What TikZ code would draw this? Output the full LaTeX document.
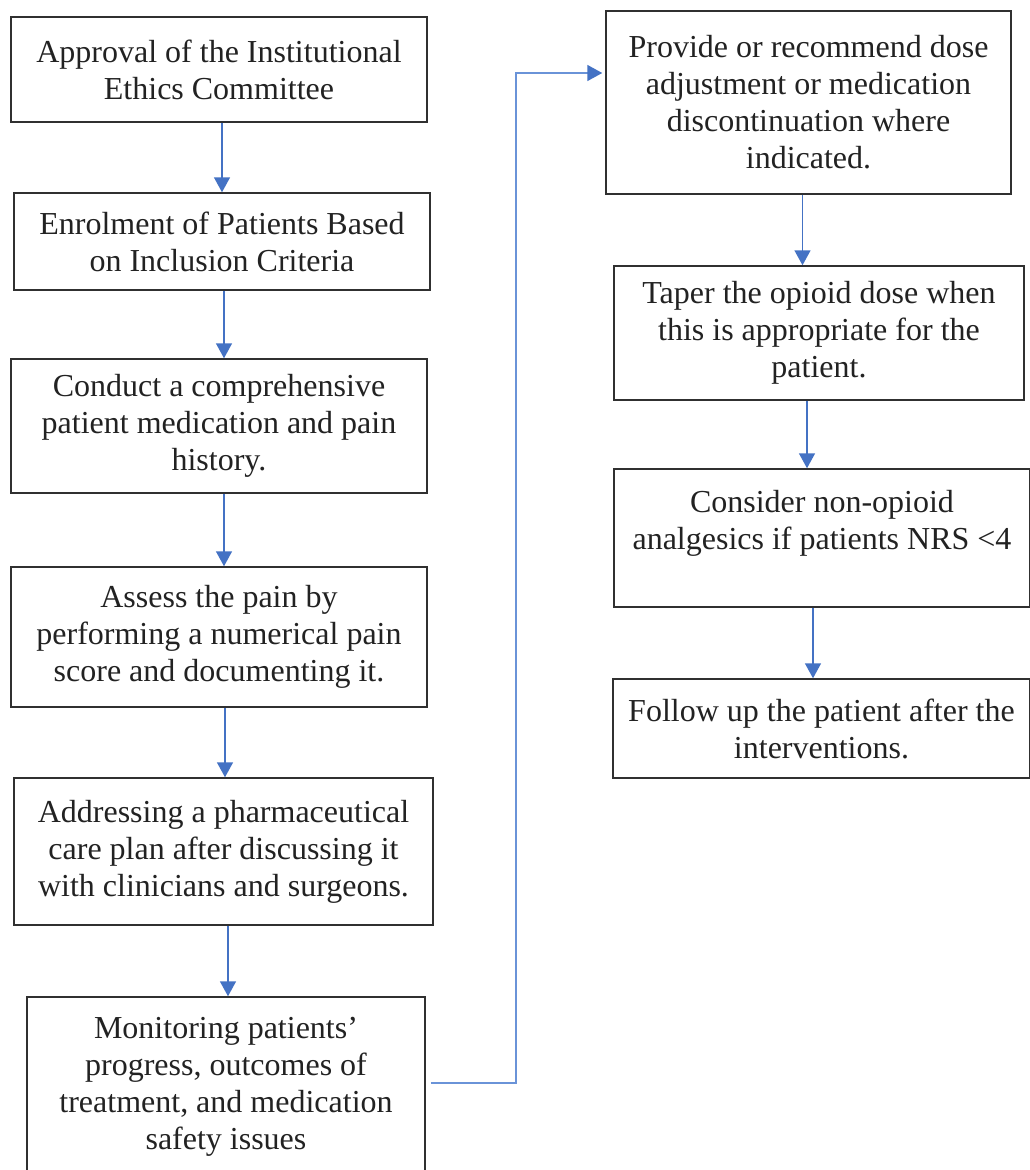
\documentclass[tikz,border=0pt]{standalone}
\usepackage{fontspec}
\setmainfont{Liberation Serif}
\usetikzlibrary{arrows.meta,calc}
\definecolor{arrblue}{HTML}{4472C4}
\definecolor{elbowblue}{HTML}{6A93D8}
\definecolor{boxline}{HTML}{303030}
\definecolor{txt}{HTML}{222222}
\tikzset{
  stepbox/.style={draw=boxline, line width=1.5pt, align=center, inner sep=0pt,
    text=txt, font=\fontsize{32pt}{37pt}\selectfont},
  arr/.style={draw=arrblue, line width=1.6pt, -{Triangle[width=16pt,length=15pt]}},
  arrb/.style={draw=elbowblue, line width=1.6pt, -{Triangle[width=16pt,length=15pt,color=arrblue]}},
}
\begin{document}
\begin{tikzpicture}[x=1pt,y=-1pt]
\useasboundingbox (0,0) rectangle (1029,1170);
\fill[white] (0,0) rectangle (1029,1170);

\node[stepbox, minimum width=416pt, minimum height=105pt] (B1) at (219,69.5)
  {Approval of the Institutional\\Ethics Committee};
\node[stepbox, minimum width=416pt, minimum height=97pt] (B2) at (222,241.5)
  {Enrolment of Patients Based\\on Inclusion Criteria};
\node[stepbox, minimum width=416pt, minimum height=134pt] (B3) at (219,426)
  {Conduct a comprehensive\\patient medication and pain\\history.};
\node[stepbox, minimum width=416pt, minimum height=140pt] (B4) at (219,637)
  {Assess the pain by\\performing a numerical pain\\score and documenting it.};
\node[stepbox, minimum width=419pt, minimum height=147pt] (B5) at (223.5,851.5)
  {Addressing a pharmaceutical\\care plan after discussing it\\with clinicians and surgeons.};
\node[stepbox, minimum width=398pt, minimum height=179pt] (B6) at (226,1086.5)
  {Monitoring patients’\\progress, outcomes of\\treatment, and medication\\safety issues};

\node[stepbox, minimum width=405pt, minimum height=183pt] (R1) at (808.5,102.5)
  {Provide or recommend dose\\adjustment or medication\\discontinuation where\\indicated.};
\node[stepbox, minimum width=410pt, minimum height=134pt] (R2) at (819,333)
  {Taper the opioid dose when\\this is appropriate for the\\patient.};
\node[stepbox, minimum width=416pt, minimum height=138pt] (R3) at (822,538)
  {Consider non-opioid\\analgesics if patients NRS <4\\\mbox{}};
\node[stepbox, minimum width=417pt, minimum height=99pt] (R4) at (821.5,728.5)
  {Follow up the patient after the\\interventions.};

\draw[arr] ([xshift=3pt]B1.south) -- ([xshift=3pt]B1.south |- B2.north);
\draw[arr] ([xshift=2pt]B2.south) -- ([xshift=2pt]B2.south |- B3.north);
\draw[arr] ([xshift=5pt]B3.south) -- ([xshift=5pt]B3.south |- B4.north);
\draw[arr] ([xshift=6pt]B4.south) -- ([xshift=6pt]B4.south |- B5.north);
\draw[arr] ([xshift=4.5pt]B5.south) -- ([xshift=4.5pt]B5.south |- B6.north);

\coordinate (ex) at (516,0);
\coordinate (r1in) at ([yshift=29.5pt,xshift=-3pt]R1.west);
\coordinate (b6out) at ([yshift=3.5pt,xshift=5pt]B6.east);
\draw[arrb] (b6out) -- (ex |- b6out) -- (ex |- r1in) -- (r1in);

\draw[arr] ([xshift=-6pt]R1.south) -- ([xshift=-6pt]R1.south |- R2.north);
\draw[arr] ([xshift=-12pt]R2.south) -- ([xshift=-12pt]R2.south |- R3.north);
\draw[arr] ([xshift=-9pt]R3.south) -- ([xshift=-9pt]R3.south |- R4.north);
\end{tikzpicture}
\end{document}
